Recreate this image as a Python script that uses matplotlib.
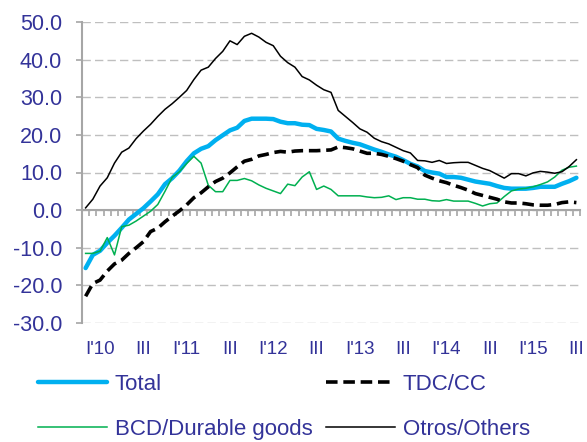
import numpy as np
import matplotlib
matplotlib.use("Agg")
import matplotlib.pyplot as plt

plt.rcParams['font.family'] = ['Liberation Sans', 'DejaVu Sans']

# Monthly data, Nov 2009 .. Jul 2015 (69 months)
total = [-15.4, -11.9, -10.8, -8.7, -6.8, -4.7, -2.5, -1.0, 0.5, 2.3,
         4.2, 6.9, 8.5, 10.5, 13.0, 15.1, 16.3, 17.0, 18.6, 19.9,
         21.2, 21.9, 23.7, 24.3, 24.3, 24.3, 24.2, 23.5, 23.1, 23.1,
         22.7, 22.6, 21.6, 21.3, 20.9, 19.0, 18.4, 17.9, 17.5, 16.8,
         16.1, 15.5, 14.8, 14.2, 13.3, 12.3, 11.6, 10.4, 10.0, 9.7,
         8.8, 8.8, 8.6, 8.1, 7.6, 7.3, 7.0, 6.4, 5.9, 5.7,
         5.7, 5.7, 5.9, 6.2, 6.2, 6.2, 7.0, 7.7, 8.6]
tdc_cc = [-22.9, -19.5, -18.6, -16.2, -14.3, -13.3, -11.5, -10.0, -8.4, -5.7,
          -4.8, -3.1, -1.6, -0.2, 1.4, 3.3, 4.6, 6.2, 7.6, 8.5,
          9.9, 11.5, 13.0, 13.5, 14.4, 14.8, 15.3, 15.6, 15.4, 15.7,
          15.8, 15.8, 15.8, 15.9, 16.0, 16.8, 16.6, 16.3, 15.7, 15.1,
          15.1, 14.8, 14.3, 13.7, 13.0, 12.1, 11.3, 9.3, 8.5, 7.8,
          7.3, 6.6, 6.0, 5.3, 4.4, 3.9, 3.4, 2.9, 2.2, 1.9,
          1.9, 1.7, 1.4, 1.3, 1.3, 1.5, 2.0, 2.2, 2.0]
durables = [-11.5, -11.5, -10.9, -7.3, -11.9, -4.4, -4.0, -2.9, -1.6, -0.3,
            1.5, 5.0, 8.7, 10.2, 12.4, 14.3, 12.5, 6.6, 4.9, 4.9,
            7.9, 7.9, 8.4, 7.8, 6.7, 5.8, 5.1, 4.4, 6.9, 6.5,
            8.8, 10.2, 5.5, 6.4, 5.5, 3.8, 3.8, 3.8, 3.8, 3.5,
            3.3, 3.4, 3.8, 2.8, 3.3, 3.3, 2.9, 2.9, 2.5, 2.4,
            2.8, 2.4, 2.4, 2.4, 1.8, 1.1, 1.7, 1.9, 3.6, 5.1,
            5.6, 5.8, 6.2, 6.8, 7.5, 8.8, 10.6, 11.4, 11.7]
others = [0.6, 2.9, 6.4, 8.6, 12.5, 15.4, 16.5, 19.0, 21.0, 22.8,
          24.9, 26.8, 28.3, 30.0, 31.8, 34.7, 37.2, 38.0, 40.3, 42.2,
          45.0, 44.0, 46.2, 47.0, 46.0, 44.6, 43.7, 40.9, 39.2, 38.0,
          35.5, 34.6, 33.2, 32.0, 31.3, 26.5, 24.9, 23.3, 21.6, 20.7,
          19.1, 18.2, 17.6, 16.7, 15.8, 15.2, 13.2, 13.1, 12.7, 13.2,
          12.4, 12.6, 12.7, 12.7, 11.9, 11.1, 10.5, 9.5, 8.5, 9.7,
          9.7, 9.1, 9.9, 10.3, 10.1, 9.8, 10.2, 11.6, 13.4]

x_labels = ["I'10", "III", "I'11", "III", "I'12", "III", "I'13", "III",
            "I'14", "III", "I'15", "III"]
series_names = ["Total", "TDC/CC", "BCD/Durable goods", "Otros/Others"]

TXT = '#333399'
GRAY = '#A6A6A6'

x = np.arange(len(total))

fig = plt.figure(figsize=(5.87, 4.42), dpi=100)
ax = fig.add_axes([82/587, (442-323)/442, 498/587, 301/442])

l_total, = ax.plot(x, total, color='#00B0F0', lw=3.2, solid_capstyle='round', zorder=3)
l_tdc, = ax.plot(x, tdc_cc, color='black', lw=2.6, dashes=(3.2, 1.6), zorder=5)
l_bcd, = ax.plot(x, durables, color='#00B050', lw=1.1, zorder=4)
l_oth, = ax.plot(x, others, color='black', lw=1.1, zorder=6)

ax.set_xlim(-0.5, len(total) - 0.5)
ax.set_ylim(-30, 50)
ax.set_yticks(np.arange(-30, 51, 10))
ax.set_yticklabels([f"{v:.1f}" for v in np.arange(-30, 51, 10)])
ax.yaxis.grid(True, color='#BFBFBF', lw=1.0, dashes=(6, 3))
ax.set_axisbelow(True)

for s in ['top', 'right']:
    ax.spines[s].set_visible(False)
ax.spines['left'].set_color(GRAY)
ax.spines['left'].set_linewidth(1.5)
ax.spines['bottom'].set_position(('data', 0))
ax.spines['bottom'].set_color(GRAY)
ax.spines['bottom'].set_linewidth(1.5)
ax.spines['bottom'].set_zorder(2)

ax.set_xticks(np.arange(-0.5, len(total), 1))
ax.tick_params(axis='x', direction='out', length=4, width=1.2, color=GRAY,
               labelbottom=False)
ax.tick_params(axis='y', direction='out', length=4.3, width=1.2, color=GRAY,
               labelsize=15.5, labelcolor=TXT, pad=10)

sec = ax.secondary_xaxis(0)
sec.set_xticks(2 + 6 * np.arange(len(x_labels)), labels=x_labels)
sec.tick_params(length=0, pad=13, labelsize=13.5, labelcolor=TXT)
sec.spines['bottom'].set_visible(False)

leg = fig.legend(handles=[l_total, l_bcd, l_tdc, l_oth],
                 labels=[series_names[0], series_names[2], series_names[1], series_names[3]],
                 loc='upper left', bbox_to_anchor=(38/587, 1 - 374/442), ncol=2,
                 frameon=False, fontsize=16, handlelength=3.1, handletextpad=0.36,
                 columnspacing=0.6, labelspacing=1.06, borderpad=0, borderaxespad=0)
for t in leg.get_texts():
    t.set_color(TXT)

fig.savefig('out.png', dpi=100)
